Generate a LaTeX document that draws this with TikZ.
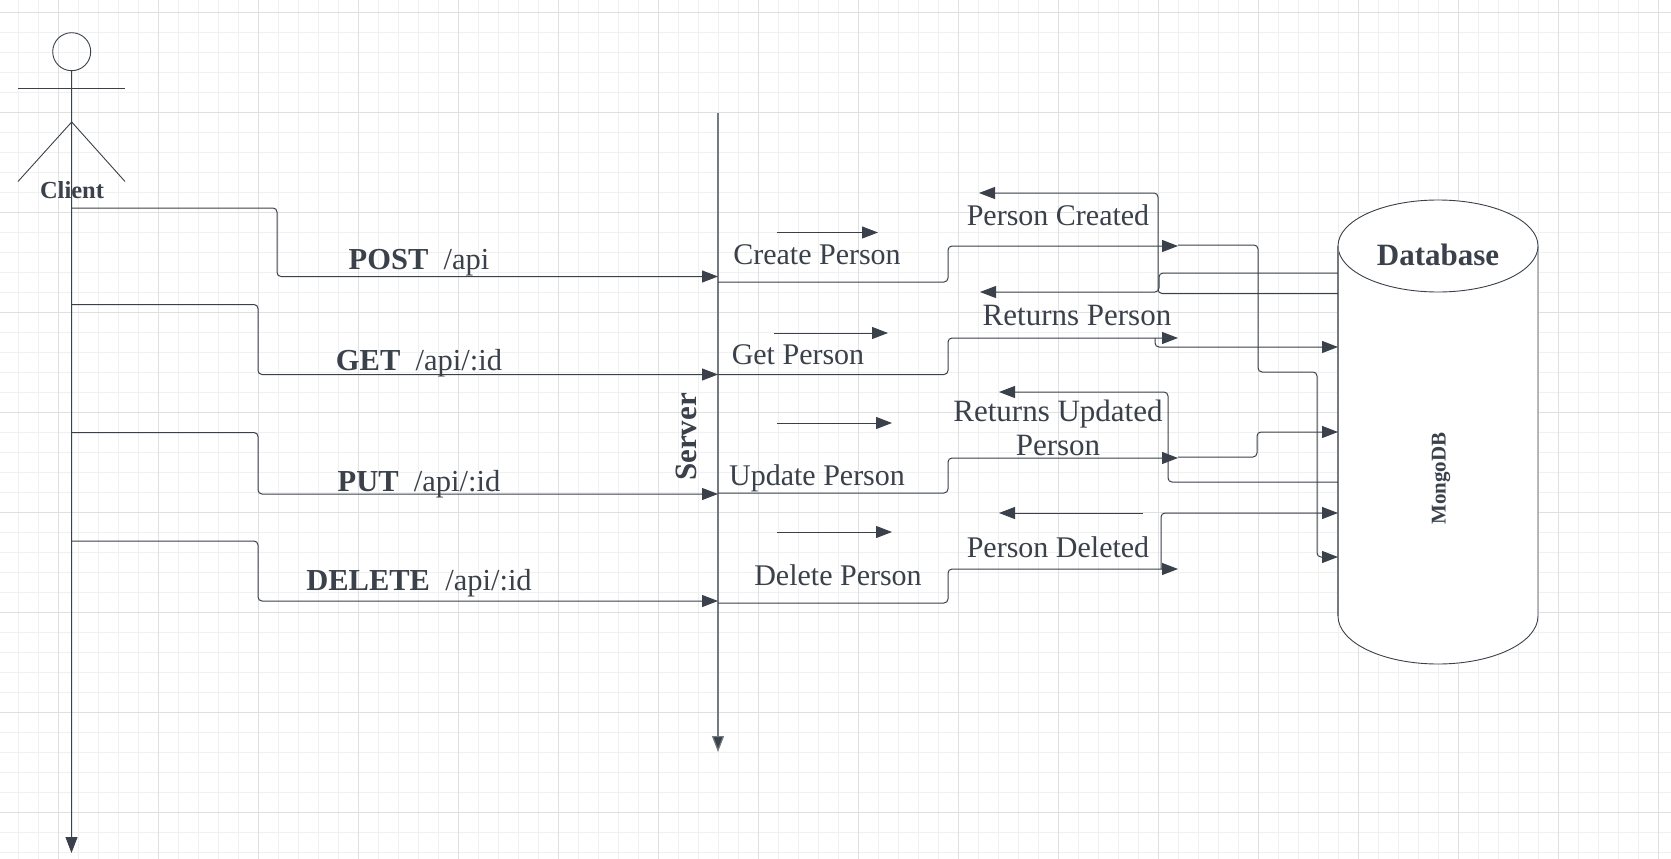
\documentclass[tikz,border=0pt]{standalone}
\usepackage{fontspec}
\setmainfont{Liberation Serif}
\usetikzlibrary{arrows.meta}
\definecolor{ink}{HTML}{3A414A}
\definecolor{gridminor}{HTML}{F0F0F0}
\definecolor{gridmajor}{HTML}{E0E0E0}
\tikzset{
  wire/.style={draw=ink,line width=1pt,rounded corners=4pt},
  conn/.style={wire,-{Triangle[length=16pt,width=12pt,fill=ink]}},
  graywire/.style={draw=ink!70,line width=1.2pt},
  outline/.style={draw=ink,line width=0.9pt},
  lab/.style={text=ink,font=\fontsize{30}{34}\selectfont,align=center,inner sep=0pt},
  labwide/.style={text=ink,font=\fontsize{31}{34}\selectfont,align=center,inner sep=0pt},
  route/.style={text=ink,font=\fontsize{30.5}{34}\selectfont,inner sep=0pt},
  actorlab/.style={text=ink,font=\fontsize{24.5}{28}\selectfont\bfseries,inner sep=0pt},
  dblab/.style={text=ink,font=\fontsize{31}{34}\selectfont\bfseries,inner sep=0pt}
}
\begin{document}
\begin{tikzpicture}[x=1pt,y=-1pt]
\useasboundingbox (0,0) rectangle (1671,859);
\fill[white] (0,0) rectangle (1671,859);
% grid
\foreach \i in {-2,...,81} {\draw[gridminor,line width=0.8pt] ({18+20*\i},0) -- ({18+20*\i},859);}
\foreach \i in {-1,...,43} {\draw[gridminor,line width=0.8pt] (0,{12+20*\i}) -- (1671,{12+20*\i});}
\foreach \i in {0,...,16} {\draw[gridmajor,line width=0.9pt] ({58+100*\i},0) -- ({58+100*\i},859);}
\foreach \i in {0,...,8} {\draw[gridmajor,line width=0.9pt] (0,{12+100*\i}) -- (1671,{12+100*\i});}

% actor
\node[outline,circle,minimum size=38pt,inner sep=0pt] (head) at (71.7,51.7) {};
\coordinate (clientEnd) at (71.5,853);
\coordinate (armL) at (18,88.7);
\coordinate (armR) at (125,88.7);
\coordinate (hip) at (71.7,122);
\coordinate (legL) at (18,181.5);
\coordinate (legR) at (125,181.5);
\draw[outline] (armL) -- (armR);
\draw[outline] (legL) -- (hip) -- (legR);
\draw[conn,rounded corners=0pt] (head.south) -- (clientEnd);
\node[actorlab] (client) at (72,190) {Client};

% server
\coordinate (srvTop) at (718,113);
\coordinate (srvEnd) at (718,752);
\draw[conn,graywire,rounded corners=0pt] (srvTop) -- (srvEnd);
\node[dblab,rotate=90] (server) at (686,437) {Server};

% database
\draw[outline,fill=white] (1338,246) -- (1338,616) arc[start angle=180,end angle=0,x radius=100,y radius=48] -- (1538,246);
\draw[outline,fill=white] (1438,246) ellipse[x radius=100,y radius=46];
\draw[graywire] (1338,246) -- (1338,616);
\node[dblab] (db) at (1438,255) {Database};
\node[text=ink,font=\fontsize{21}{24}\selectfont\bfseries,rotate=90,inner sep=0pt] (mongo) at (1441,478.5) {MongoDB};

% named ends
\coordinate (cPost) at (72,208);
\coordinate (cGet) at (72,304.5);
\coordinate (cPut) at (72,432.5);
\coordinate (cDel) at (72,541);
\coordinate (sPostIn) at (718,276.5);
\coordinate (sGetIn) at (718,374.5);
\coordinate (sPutIn) at (718,494);
\coordinate (sDelIn) at (718,601);
\coordinate (sPostOut) at (718,282);
\coordinate (sGetOut) at (718,374.5);
\coordinate (sPutOut) at (718,493);
\coordinate (sDelOut) at (718,603);
\coordinate (tCreate) at (1178,246);
\coordinate (tGet) at (1178,338);
\coordinate (tUpdate) at (1178,458);
\coordinate (tDelete) at (1178,569);

% client to server
\draw[conn] (cPost) -- (277,208) -- (277,276.5) -- (sPostIn);
\draw[conn] (cGet) -- (258,304.5) -- (258,374.5) -- (sGetIn);
\draw[conn] (cPut) -- (258,432.5) -- (258,494) -- (sPutIn);
\draw[conn] (cDel) -- (258,541) -- (258,601) -- (sDelIn);

% server outward
\draw[conn] (sPostOut) -- (948,282) -- (948,246) -- (tCreate);
\draw[conn] (sGetOut) -- (948,374.5) -- (948,338) -- (tGet);
\draw[conn] (sPutOut) -- (948,493) -- (948,458) -- (tUpdate);
\draw[conn] (sDelOut) -- (948,603) -- (948,569) -- (tDelete);

% short direction arrows
\coordinate (a1) at (777,232.5); \coordinate (a1e) at (878,232.5);
\coordinate (a2) at (774,333); \coordinate (a2e) at (888,333);
\coordinate (a3) at (777,423); \coordinate (a3e) at (892,423);
\coordinate (a4) at (777,532); \coordinate (a4e) at (892,532);
\coordinate (a5) at (1143,513); \coordinate (a5e) at (999,513);
\draw[conn] (a1) -- (a1e);
\draw[conn] (a2) -- (a2e);
\draw[conn] (a3) -- (a3e);
\draw[conn] (a4) -- (a4e);
\draw[conn] (a5) -- (a5e);

% database links
\coordinate (dbA) at (1338,273); \coordinate (dbB) at (1338,293.5);
\coordinate (retA) at (980,292); \coordinate (retB) at (979,193);
\coordinate (dbGet) at (1338,347);
\coordinate (dbCreate) at (1338,557);
\coordinate (dbUpdate) at (1338,432);
\coordinate (dbUpdFrom) at (1338,482);
\coordinate (retU) at (999,392);
\coordinate (dbDelete) at (1338,513);
\draw[conn] (dbA) -- (1159,273) -- (1159,292) -- (retA);
\draw[conn] (dbB) -- (1158,293.5) -- (1158,193) -- (retB);
\draw[conn] (tCreate) ++(0,-1) -- (1258,245) -- (1258,372) -- (1317,372) -- (1317,557) -- (dbCreate);
\draw[conn] (1155,338) -- (1155,347) -- (dbGet);
\draw[conn] (dbUpdFrom) -- (1168,482) -- (1168,392) -- (retU);
\draw[conn] (tUpdate) ++(0,-1) -- (1257,457) -- (1257,432) -- (dbUpdate);
\draw[conn] (1161,569) -- (1161,513) -- (dbDelete);

% labels
\node[route] (lPost) at (419,263) {\textbf{POST}\ \ /api};
\node[route] (lGet) at (419,363) {\textbf{GET}\ \ /api/:id};
\node[route] (lPut) at (419,484) {\textbf{PUT}\ \ /api/:id};
\node[route] (lDel) at (419,583) {\textbf{DELETE}\ \ /api/:id};
\node[lab] (n1) at (817,255) {Create Person};
\node[lab] (n2) at (798,355) {Get Person};
\node[lab] (n3) at (817,478) {Update Person};
\node[lab] (n4) at (838,575) {Delete Person};
\node[lab] (n5) at (1058,215) {Person Created};
\node[labwide] (n6) at (1077,315) {Returns Person};
\node[labwide] (n7) at (1058,428) {Returns Updated\\Person};
\node[lab] (n8) at (1058,547) {Person Deleted};
\end{tikzpicture}
\end{document}
